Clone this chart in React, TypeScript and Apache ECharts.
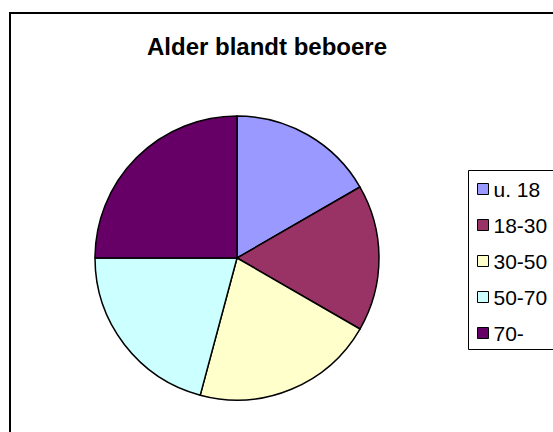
import React, { useEffect, useRef } from "react";
import * as echarts from "echarts";

const categories = ["u. 18", "18-30", "30-50", "50-70", "70-"];
const values = [4, 4, 5, 5, 6];
const colors = ["#9999FF", "#993366", "#FFFFCC", "#CCFFFF", "#660066"];
const titleText = "Alder blandt beboere";

const FONT = "'Liberation Sans', Arial, sans-serif";

export default function App() {
  const ref = useRef<HTMLDivElement>(null);
  useEffect(() => {
    if (!ref.current) return;
    const chart = echarts.init(ref.current, undefined, { renderer: "svg" });
    chart.setOption({
      animation: false,
      backgroundColor: "#ffffff",
      graphic: [
        {
          type: "rect",
          z: -1,
          shape: { x: 10, y: 13, width: 560, height: 440 },
          style: { fill: "#ffffff", stroke: "#000000", lineWidth: 2 },
        },
        {
          type: "rect",
          z: 0,
          shape: { x: 468.5, y: 170.5, width: 100, height: 179 },
          style: { fill: "#ffffff", stroke: "#000000", lineWidth: 1 },
        },
        {
          type: "text",
          left: 267 - 120,
          top: 34,
          style: {
            text: titleText,
            fontFamily: FONT,
            fontSize: 24,
            fontWeight: "bold",
            fill: "#000000",
            width: 240,
            align: "center",
          },
        },
      ],
      legend: {
        orient: "vertical",
        left: 472,
        top: 173,
        icon: "rect",
        itemWidth: 11,
        itemHeight: 11,
        itemGap: 14,
        itemStyle: { borderColor: "#000000", borderWidth: 1 },
        textStyle: {
          fontFamily: FONT,
          fontSize: 21,
          color: "#000000",
          lineHeight: 22,
          padding: [0, 0, 0, 0],
        },
        data: categories,
        z: 5,
      },
      series: [
        {
          type: "pie",
          center: [237, 258],
          radius: [0, 142],
          startAngle: 90,
          clockwise: true,
          label: { show: false },
          labelLine: { show: false },
          emphasis: { disabled: true },
          itemStyle: { borderColor: "#000000", borderWidth: 1.5 },
          data: categories.map((c, i) => ({
            name: c,
            value: values[i],
            itemStyle: { color: colors[i] },
          })),
        },
      ],
    });
    return () => chart.dispose();
  }, []);
  return (
    <div
      ref={ref}
      style={{ position: "fixed", left: 0, top: 0, width: 553, height: 432 }}
    />
  );
}
